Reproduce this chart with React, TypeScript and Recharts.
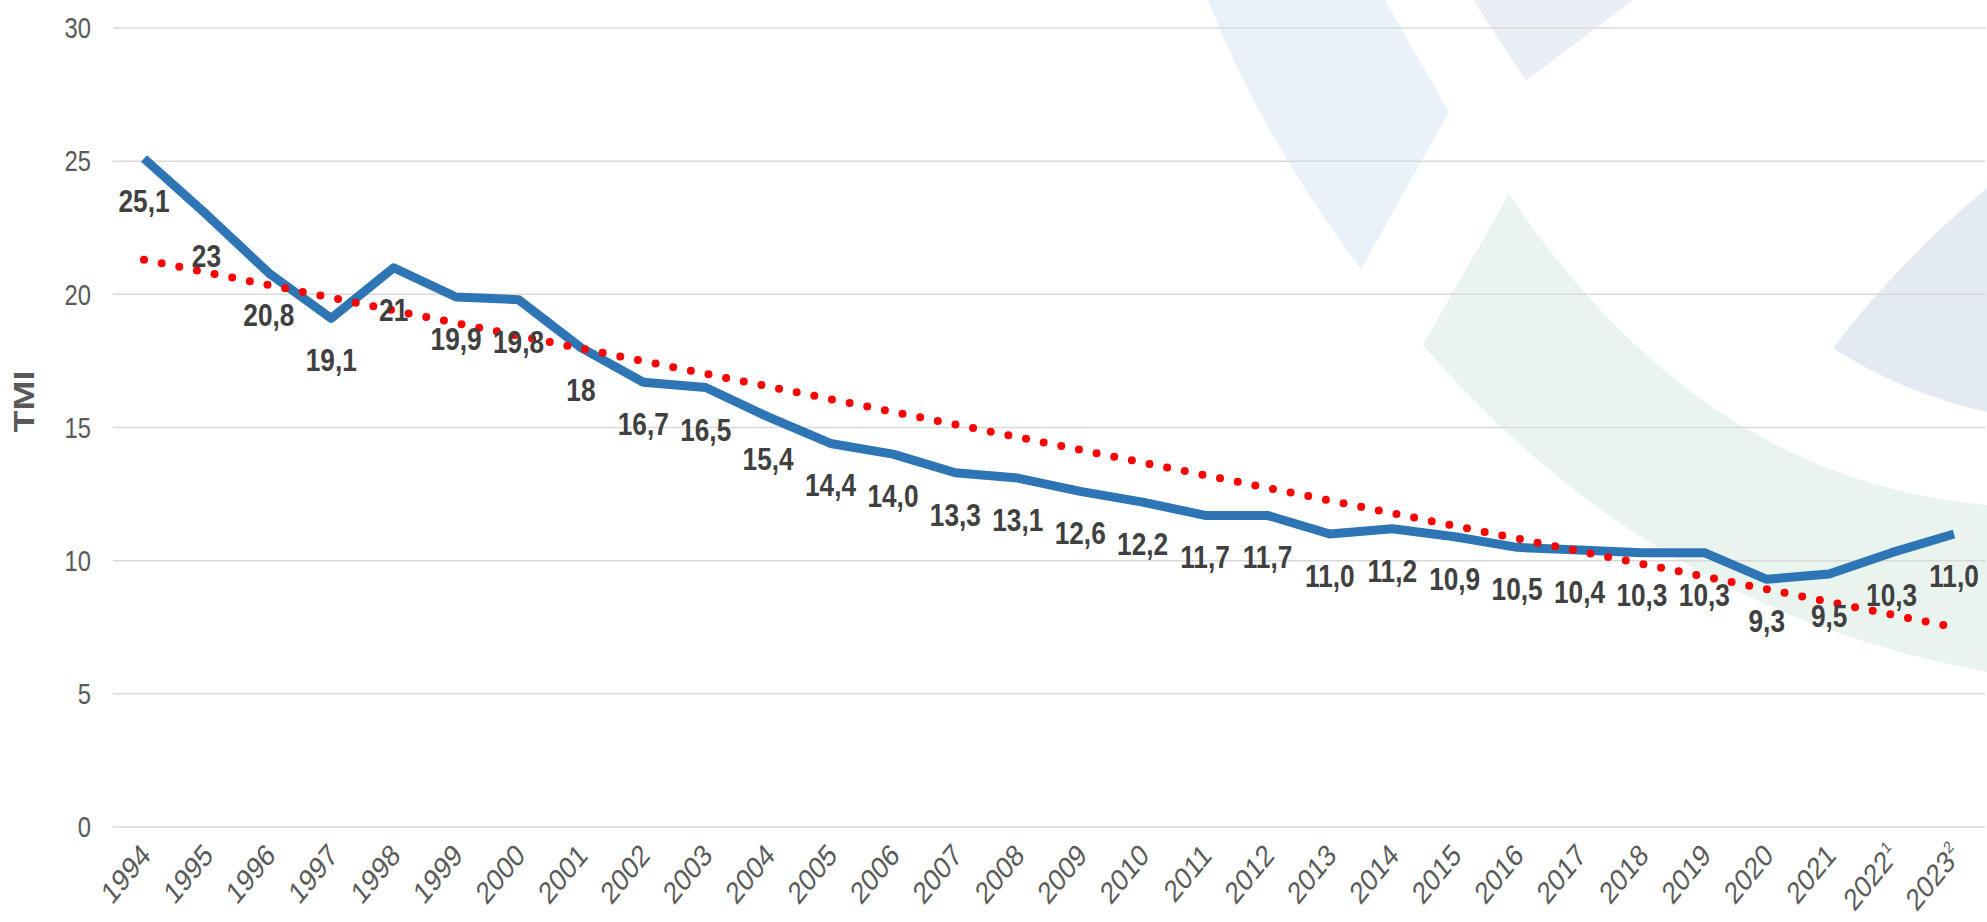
import React from 'react';
import { LineChart, Line, XAxis, YAxis, CartesianGrid, LabelList, Label } from 'recharts';

const years = ['1994', '1995', '1996', '1997', '1998', '1999', '2000', '2001', '2002', '2003', '2004', '2005', '2006', '2007', '2008', '2009', '2010', '2011', '2012', '2013', '2014', '2015', '2016', '2017', '2018', '2019', '2020', '2021', '2022', '2023'];
const tmi = [25.1, 23, 20.8, 19.1, 21, 19.9, 19.8, 18, 16.7, 16.5, 15.4, 14.4, 14.0, 13.3, 13.1, 12.6, 12.2, 11.7, 11.7, 11.0, 11.2, 10.9, 10.5, 10.4, 10.3, 10.3, 9.3, 9.5, 10.3, 11.0];
const tmiLabels = ['25,1', '23', '20,8', '19,1', '21', '19,9', '19,8', '18', '16,7', '16,5', '15,4', '14,4', '14,0', '13,3', '13,1', '12,6', '12,2', '11,7', '11,7', '11,0', '11,2', '10,9', '10,5', '10,4', '10,3', '10,3', '9,3', '9,5', '10,3', '11,0'];
// linear trend, read at both ends
const trendStart = 21.3;
const trendEnd = 7.5;
const yTicks = [0, 5, 10, 15, 20, 25, 30];
const yearNotes: Record<string, string> = { '2022': '1', '2023': '2' };

const font = "'Liberation Sans', Arial, sans-serif";
// the source picture is horizontally condensed, text included
const SQ = 0.82;

const data = years.map((year, i) => ({
  year,
  tmi: tmi[i],
  label: tmiLabels[i],
  trend: i === 0 ? trendStart : i === years.length - 1 ? trendEnd : null,
}));

function YearTick({ x, y, payload }: any) {
  const note = yearNotes[payload.value];
  return (
    <g transform={`translate(${x + 8},${y + 24}) scale(${SQ},1) rotate(-45)`}>
      <text textAnchor="end" fill="#595959" fontSize={31} fontFamily={font}>
        {payload.value}
        {note && <tspan fontSize={17} dy={-13}>{note}</tspan>}
      </text>
    </g>
  );
}

function ValueTick({ x, y, payload }: any) {
  return (
    <g transform={`translate(${x},${y}) scale(${SQ},1)`}>
      <text textAnchor="end" dy="0.355em" fill="#595959" fontSize={29} fontFamily={font}>
        {payload.value}
      </text>
    </g>
  );
}

function ValueLabel({ x, y, value }: any) {
  return (
    <g transform={`translate(${x},${y + 53}) scale(${SQ},1)`}>
      <text textAnchor="middle" fill="#404040" fontSize={32} fontWeight="bold" fontFamily={font}>
        {value}
      </text>
    </g>
  );
}

// faint logo watermark behind the plot
function Watermark() {
  return (
    <svg width={1987} height={922} style={{ position: 'absolute', left: 0, top: 0 }}>
      <path d="M1208,0 Q1261,136 1361,269 L1449,112 L1385,0 Z" fill="#E9F2F8" />
      <path d="M1473,0 L1526,81 L1633,0 Z" fill="#EAEFF5" />
      <path d="M1509,194 Q1700,480 1987,505 L1987,672 Q1650,610 1423,345 Z" fill="#EAF4EE" />
      <path d="M1987,188 Q1900,260 1833,348 Q1900,392 1987,412 Z" fill="#E4EAF2" />
    </svg>
  );
}

export default function App() {
  return (
    <div style={{ position: 'absolute', left: 0, top: 0, width: 1987, height: 922, background: '#fff' }}>
      <Watermark />
      <div style={{ position: 'absolute', left: 0, top: 0 }}>
        <LineChart width={1987} height={922} data={data} margin={{ top: 28, right: 2, bottom: 0, left: 0 }}>
          <CartesianGrid vertical={false} stroke="#D9D9D9" strokeWidth={1.5} />
          <XAxis
            dataKey="year"
            interval={0}
            height={95}
            axisLine={false}
            tickLine={false}
            tickMargin={0}
            padding={{ left: 31, right: 31 }}
            tick={<YearTick />}
          />
          <YAxis
            domain={[0, 30]}
            ticks={yTicks}
            width={113}
            axisLine={false}
            tickLine={false}
            tickMargin={16}
            tick={<ValueTick />}
          >
            <Label
              content={({ viewBox }: any) => {
                const cx = viewBox.x + 34;
                const cy = viewBox.y + viewBox.height / 2 - 26;
                return (
                  <g transform={`translate(${cx},${cy}) scale(${SQ},1) rotate(-90)`}>
                    <text textAnchor="middle" fill="#595959" fontSize={36} fontWeight="bold" fontFamily={font}>
                      TMI
                    </text>
                  </g>
                );
              }}
            />
          </YAxis>
          <Line
            type="linear"
            dataKey="tmi"
            stroke="#2E75B6"
            strokeWidth={9}
            strokeLinejoin="round"
            dot={false}
            activeDot={false}
            isAnimationActive={false}
          >
            <LabelList dataKey="label" content={<ValueLabel />} />
          </Line>
          <Line
            type="linear"
            dataKey="trend"
            connectNulls
            stroke="#FF0000"
            strokeWidth={8}
            strokeDasharray="0 18"
            strokeLinecap="round"
            dot={false}
            activeDot={false}
            isAnimationActive={false}
          />
        </LineChart>
      </div>
    </div>
  );
}
